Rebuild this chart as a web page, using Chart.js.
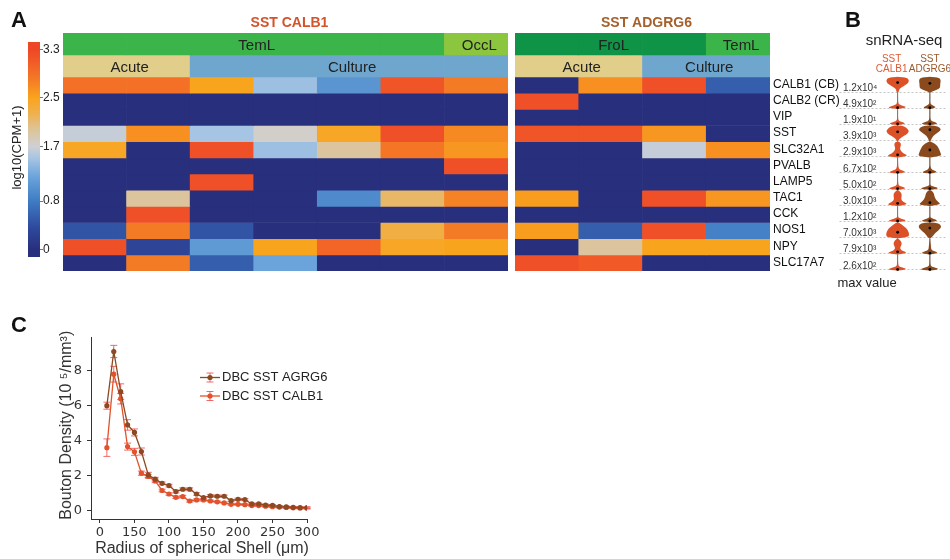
<!DOCTYPE html>
<html>
<head>
<meta charset="utf-8">
<script src="https://cdn.jsdelivr.net/npm/chart.js@4.4.1/dist/chart.umd.min.js"></script>
<style>
  html, body { margin: 0; padding: 0; background: #fff; overflow: hidden; width: 950px; height: 559px; }
  .box { position: absolute; }
</style>
</head>
<body>
<div class="box" style="left:0;top:0;width:63px;height:280px"><canvas id="cbar"></canvas></div>
<div class="box" style="left:63px;top:0;width:445px;height:280px"><canvas id="hmCalb1"></canvas></div>
<div class="box" style="left:515px;top:0;width:255px;height:280px"><canvas id="hmAdgrg6"></canvas></div>
<div class="box" style="left:770px;top:0;width:180px;height:300px"><canvas id="violin"></canvas></div>
<div class="box" style="left:0;top:310px;width:340px;height:249px"><canvas id="bouton"></canvas></div>
<script>
// ---------- data ----------
const genes = ['CALB1 (CB)', 'CALB2 (CR)', 'VIP', 'SST', 'SLC32A1', 'PVALB', 'LAMP5', 'TAC1', 'CCK', 'NOS1', 'NPY', 'SLC17A7'];
const maxValues = ['1.2x10⁴', '4.9x10²', '1.9x10¹', '3.9x10³', '2.9x10³', '6.7x10²', '5.0x10²', '3.0x10³', '1.2x10²', '7.0x10³', '7.9x10³', '2.6x10²'];

// log10(CPM+1), one row per gene
const calb1Region = ['TemL', 'TemL', 'TemL', 'TemL', 'TemL', 'TemL', 'OccL'];
const calb1Prep = ['Acute', 'Acute', 'Culture', 'Culture', 'Culture', 'Culture', 'Culture'];
const calb1Expr = [
  [2.9, 2.9, 2.5, 1.45, 1.05, 3.15, 2.8],
  [0, 0, 0, 0, 0, 0, 0],
  [0, 0, 0, 0, 0, 0, 0],
  [1.65, 2.65, 1.5, 1.75, 2.45, 3.2, 2.7],
  [2.45, 0, 3.2, 1.45, 1.95, 2.85, 2.6],
  [0, 0, 0, 0, 0, 0, 3.2],
  [0, 0, 3.2, 0, 0, 0, 0],
  [0, 1.95, 0, 0, 0.95, 2.15, 2.75],
  [0, 3.2, 0, 0, 0, 0, 0],
  [0.45, 2.8, 0.45, 0, 0, 2.3, 2.8],
  [3.2, 0.3, 1.1, 2.5, 3.0, 2.45, 2.5],
  [0, 2.8, 0.55, 1.2, 0, 0, 0]
];

const adgrg6Region = ['FroL', 'FroL', 'FroL', 'TemL'];
const adgrg6Prep = ['Acute', 'Acute', 'Culture', 'Culture'];
const adgrg6Expr = [
  [0, 2.65, 3.2, 0.55],
  [3.2, 0, 0, 0],
  [0, 0, 0, 0],
  [3.15, 3.15, 2.6, 0],
  [0, 0, 1.65, 2.65],
  [0, 0, 0, 0],
  [0, 0, 0, 0],
  [2.55, 0, 3.2, 2.6],
  [0, 0, 0, 0],
  [2.55, 0.55, 3.2, 0.85],
  [0, 1.95, 2.5, 2.5],
  [3.2, 3.1, 0, 0]
];

const colorbarTicks = [0, 0.8, 1.7, 2.5, 3.3];
const colorbarTickLabels = ['0', '0.8', '1.7', '2.5', '3.3'];

// snRNA-seq violin densities, sampled from zero (bottom) to max (top), normalised to 1
const violinCalb1 = [
  [0.10, 0.15, 0.50, 0.90, 1.00, 0.85],
  [1.00, 0.12, 0.05, 0.03, 0.02, 0.00],
  [0.90, 0.10, 0.04, 0.03, 0.02, 0.00],
  [0.10, 0.30, 0.75, 1.00, 0.90, 0.60],
  [1.00, 0.50, 0.25, 0.20, 0.30, 0.25],
  [0.90, 0.15, 0.06, 0.05, 0.03, 0.00],
  [0.95, 0.10, 0.05, 0.03, 0.02, 0.00],
  [1.00, 0.45, 0.30, 0.35, 0.35, 0.15],
  [1.00, 0.06, 0.03, 0.02, 0.00, 0.00],
  [0.95, 1.00, 0.95, 0.80, 0.55, 0.20],
  [1.00, 0.30, 0.20, 0.35, 0.35, 0.15],
  [1.00, 0.10, 0.05, 0.03, 0.02, 0.00]
];
const violinAdgrg6 = [
  [0.15, 0.85, 0.90, 0.90, 0.95, 0.85],
  [0.70, 0.08, 0.03, 0.02, 0.00, 0.00],
  [0.90, 0.12, 0.04, 0.02, 0.00, 0.00],
  [0.10, 0.20, 0.40, 0.80, 1.00, 0.70],
  [1.00, 0.95, 0.85, 0.75, 0.60, 0.25],
  [0.80, 0.15, 0.05, 0.03, 0.02, 0.00],
  [1.00, 0.05, 0.03, 0.02, 0.00, 0.00],
  [1.00, 0.70, 0.50, 0.40, 0.35, 0.20],
  [0.90, 0.05, 0.03, 0.02, 0.00, 0.00],
  [0.20, 0.35, 0.60, 0.90, 1.00, 0.80],
  [0.90, 0.15, 0.10, 0.08, 0.05, 0.02],
  [1.00, 0.10, 0.05, 0.03, 0.00, 0.00]
];
const medianCalb1 = [0.65, 0, 0, 0.6, 0.1, 0, 0, 0.1, 0, 0.35, 0.1, 0];
const medianAdgrg6 = [0.6, 0, 0, 0.75, 0.45, 0, 0, 0.15, 0, 0.65, 0, 0];

// bouton density vs shell radius
const radius = [10, 20, 30, 40, 50, 60, 70, 80, 90, 100, 110, 120, 130, 140, 150, 160, 170, 180, 190, 200, 210, 220, 230, 240, 250, 260, 270, 280, 290, 300];
const agrg6Density = [6.0, 9.1, 6.8, 4.9, 4.47, 3.38, 2.04, 1.8, 1.56, 1.43, 1.09, 1.22, 1.22, 0.95, 0.74, 0.84, 0.82, 0.82, 0.57, 0.65, 0.63, 0.38, 0.38, 0.32, 0.3, 0.23, 0.21, 0.19, 0.17, 0.17];
const agrg6Err = [0.2, 0.35, 0.45, 0.3, 0.2, 0.2, 0.15, 0.1, 0.08, 0.08, 0.08, 0.08, 0.08, 0.07, 0.07, 0.07, 0.07, 0.07, 0.06, 0.06, 0.06, 0.05, 0.05, 0.05, 0.05, 0.05, 0.05, 0.05, 0.05, 0.05];
const calb1Density = [3.6, 7.8, 6.4, 3.66, 3.36, 2.14, 1.95, 1.7, 1.15, 0.95, 0.76, 0.8, 0.55, 0.61, 0.61, 0.55, 0.5, 0.44, 0.36, 0.36, 0.34, 0.29, 0.29, 0.25, 0.22, 0.2, 0.18, 0.16, 0.15, 0.14];
const calb1Err = [0.5, 0.45, 0.3, 0.2, 0.2, 0.12, 0.1, 0.1, 0.08, 0.07, 0.07, 0.07, 0.06, 0.06, 0.06, 0.05, 0.05, 0.05, 0.05, 0.05, 0.05, 0.05, 0.05, 0.05, 0.05, 0.05, 0.05, 0.05, 0.05, 0.05];
const radiusTicks = [0, 50, 100, 150, 200, 250, 300];
const radiusTickLabels = ['0', '150', '100', '150', '200', '250', '300'];
const densityTicks = [0, 2, 4, 6, 8];

// ---------- styling ----------
const FONT = '"Liberation Sans", "DejaVu Sans", Arial, sans-serif';
const WIDE_FONT = '"DejaVu Sans", "Liberation Sans", sans-serif';
Chart.defaults.font.family = FONT;
Chart.defaults.animation = false;
Chart.defaults.responsive = true;
Chart.defaults.maintainAspectRatio = false;
Chart.defaults.events = [];
Chart.defaults.plugins.legend.display = false;
Chart.defaults.plugins.tooltip.enabled = false;

const regionColors = { TemL: '#3bb54a', OccL: '#8cc63f', FroL: '#0f9346' };
const prepColors = { Acute: '#e0ce8a', Culture: '#6ea6ce' };
const colorStops = [
  [0, '#282f7d'], [0.35, '#2e489b'], [0.8, '#3e7cc3'], [1.2, '#6ba4db'], [1.5, '#a6c4e3'],
  [1.7, '#cfd0d4'], [2.0, '#dec393'], [2.25, '#efb04c'], [2.5, '#f9a41d'], [2.8, '#f47b25'],
  [3.1, '#f15a27'], [3.3, '#ee4726']
];
const hexRgb = h => [1, 3, 5].map(k => parseInt(h.slice(k, k + 2), 16));
function heatColor(v) {
  if (v <= colorStops[0][0]) return colorStops[0][1];
  for (let k = 1; k < colorStops.length; k++) {
    const [v1, c1] = colorStops[k];
    if (v <= v1) {
      const [v0, c0] = colorStops[k - 1];
      const t = (v - v0) / (v1 - v0);
      const a = hexRgb(c0), b = hexRgb(c1);
      return 'rgb(' + a.map((x, i) => Math.round(x + (b[i] - x) * t)).join(',') + ')';
    }
  }
  return colorStops[colorStops.length - 1][1];
}

// row layout on the shared vertical scale: two annotation bands, then one unit per gene
const ANN_H = 1.36;
const Y_TOTAL = 2 * ANN_H + genes.length;
const geneTop = i => 2 * ANN_H + i;

function groupSpans(labels) {
  const spans = [];
  labels.forEach((l, j) => {
    const last = spans[spans.length - 1];
    if (last && last.label === l) last.end = j; else spans.push({ label: l, start: j, end: j });
  });
  return spans;
}

// ---------- colour bar ----------
const CB_MIN = -0.12, CB_MAX = 3.42;
const cbarText = {
  id: 'cbarText',
  afterDraw(chart) {
    const { ctx, chartArea } = chart;
    ctx.save();
    ctx.fillStyle = '#111';
    ctx.font = 'bold 22px ' + FONT;
    ctx.textAlign = 'left';
    ctx.textBaseline = 'alphabetic';
    ctx.fillText('A', 11, 27);
    ctx.translate(17, (chartArea.top + chartArea.bottom) / 2 - 2);
    ctx.rotate(-Math.PI / 2);
    ctx.font = '13px ' + FONT;
    ctx.fillStyle = '#222';
    ctx.textAlign = 'center';
    ctx.textBaseline = 'middle';
    ctx.fillText('log10(CPM+1)', 0, 0);
    ctx.restore();
  }
};
new Chart(document.getElementById('cbar'), {
  type: 'bar',
  data: {
    labels: ['log10(CPM+1)'],
    datasets: [{
      data: [[CB_MIN, CB_MAX]],
      barPercentage: 1, categoryPercentage: 1,
      borderWidth: 0,
      backgroundColor(ctx) {
        const chart = ctx.chart;
        if (!chart.chartArea) return colorStops[0][1];
        const y = chart.scales.y;
        const g = chart.ctx.createLinearGradient(0, y.getPixelForValue(CB_MIN), 0, y.getPixelForValue(CB_MAX));
        colorStops.forEach(([v, c]) => g.addColorStop((v - CB_MIN) / (CB_MAX - CB_MIN), c));
        return g;
      }
    }]
  },
  options: {
    layout: { padding: { left: 28, top: 42, bottom: 23, right: 0 } },
    scales: {
      x: { display: false },
      y: {
        position: 'right', min: CB_MIN, max: CB_MAX,
        afterBuildTicks(s) { s.ticks = colorbarTicks.map(v => ({ value: v })); },
        afterFit(s) { s.width = 23; },
        ticks: { font: { size: 12 }, color: '#222', padding: 0, callback: (v, i) => colorbarTickLabels[i] },
        grid: { drawOnChartArea: false, tickLength: 3, color: '#777' },
        border: { display: false }
      }
    }
  },
  plugins: [cbarText]
});

// ---------- heatmaps ----------
const heatLabels = {
  id: 'heatLabels',
  afterDatasetsDraw(chart, args, opts) {
    const { ctx, chartArea, scales: { x, y } } = chart;
    ctx.save();
    ctx.textAlign = 'center';
    ctx.fillStyle = opts.titleColor;
    ctx.font = 'bold 14px ' + FONT;
    ctx.textBaseline = 'alphabetic';
    ctx.fillText(opts.title, (chartArea.left + chartArea.right) / 2 + 4, 27);
    ctx.fillStyle = '#222';
    ctx.font = '15px ' + FONT;
    ctx.textBaseline = 'middle';
    [opts.region, opts.prep].forEach((labels, k) => {
      groupSpans(labels).forEach(s => {
        const cx = (x.getPixelForValue(s.start) + x.getPixelForValue(s.end)) / 2;
        const cy = y.getPixelForValue((k + 0.5) * ANN_H);
        ctx.fillText(s.label, cx + 3, cy + 1.5);
      });
    });
    ctx.restore();
  }
};

function heatmap(id, title, titleColor, expr, region, prep) {
  const cols = region.map((_, j) => String(j + 1));
  const cell = { grouped: false, barPercentage: 1, categoryPercentage: 1, borderWidth: 0 };
  const datasets = [
    Object.assign({}, cell, { data: cols.map(() => [0, ANN_H]), backgroundColor: region.map(r => regionColors[r]) }),
    Object.assign({}, cell, { data: cols.map(() => [ANN_H, 2 * ANN_H]), backgroundColor: prep.map(p => prepColors[p]) })
  ];
  expr.forEach((row, i) => {
    datasets.push(Object.assign({}, cell, {
      data: row.map(() => [geneTop(i), geneTop(i) + 1]),
      backgroundColor: row.map(heatColor)
    }));
  });
  return new Chart(document.getElementById(id), {
    type: 'bar',
    data: { labels: cols, datasets },
    options: {
      layout: { padding: { top: 33, bottom: 9, left: 0, right: 0 } },
      scales: {
        x: { type: 'category', display: false },
        y: { type: 'linear', min: 0, max: Y_TOTAL, reverse: true, display: false }
      },
      plugins: { heatLabels: { title, titleColor, region, prep } }
    },
    plugins: [heatLabels]
  });
}
heatmap('hmCalb1', 'SST CALB1', '#d4532b', calb1Expr, calb1Region, calb1Prep);
heatmap('hmAdgrg6', 'SST ADGRG6', '#a5602c', adgrg6Expr, adgrg6Region, adgrg6Prep);

// ---------- snRNA-seq violins ----------
const VIOLIN_H = 0.85;     // violin height in row units
const VIOLIN_W = 11.5;     // max half-width in px
const BASE_OFF = 0.1;      // baseline sits just above the row bottom
const baseOf = i => geneTop(i) + 1 - BASE_OFF;
const violinColors = ['#dc5128', '#8a4a1e'];
const violinSets = [violinCalb1, violinAdgrg6];

const violinPlugin = {
  id: 'violinPlugin',
  beforeDatasetsDraw(chart) {
    const { ctx, chartArea, scales: { x, y } } = chart;
    ctx.save();
    // dashed row guides
    ctx.strokeStyle = '#b5b5b5';
    ctx.lineWidth = 0.8;
    ctx.setLineDash([2, 2]);
    genes.forEach((g, i) => {
      const py = Math.round(y.getPixelForValue(baseOf(i))) + 0.5;
      ctx.beginPath();
      ctx.moveTo(chartArea.left - 42, py);
      ctx.lineTo(chartArea.right, py);
      ctx.stroke();
    });
    ctx.setLineDash([]);
    // continuous spine through each column
    violinSets.forEach((set, c) => {
      const cx = x.getPixelForValue(c + 0.5);
      ctx.strokeStyle = '#444';
      ctx.lineWidth = 0.6;
      ctx.beginPath();
      ctx.moveTo(cx, y.getPixelForValue(geneTop(0) + 0.05));
      ctx.lineTo(cx, y.getPixelForValue(Y_TOTAL));
      ctx.stroke();
    });
    // violin bodies
    violinSets.forEach((set, c) => {
      const cx = x.getPixelForValue(c + 0.5);
      ctx.fillStyle = violinColors[c];
      set.forEach((prof, i) => {
        const n = prof.length - 1;
        const pts = prof.map((d, k) => [d * VIOLIN_W, y.getPixelForValue(baseOf(i) - VIOLIN_H * k / n)]);
        const bottom = y.getPixelForValue(baseOf(i)) + 1.2;
        const top = pts[n][1] - 1;
        const right = [[0, bottom]].concat(pts).concat([[0, top]]);
        const side = right.map(([w, py]) => [cx + Math.max(w, 0.4), py]);
        const other = right.slice().reverse().map(([w, py]) => [cx - Math.max(w, 0.4), py]);
        const poly = side.concat(other);
        ctx.beginPath();
        ctx.moveTo(poly[0][0], poly[0][1]);
        for (let k = 1; k < poly.length - 1; k++) {
          const mx = (poly[k][0] + poly[k + 1][0]) / 2, my = (poly[k][1] + poly[k + 1][1]) / 2;
          ctx.quadraticCurveTo(poly[k][0], poly[k][1], mx, my);
        }
        ctx.lineTo(poly[poly.length - 1][0], poly[poly.length - 1][1]);
        ctx.closePath();
        ctx.fill();
      });
    });
    ctx.restore();
  },
  afterDraw(chart) {
    const { ctx, scales: { x, y } } = chart;
    ctx.save();
    ctx.fillStyle = '#111';
    ctx.textAlign = 'left';
    ctx.textBaseline = 'alphabetic';
    ctx.font = 'bold 22px ' + FONT;
    ctx.fillText('B', 75, 27);
    ctx.textAlign = 'center';
    ctx.font = '15px ' + FONT;
    ctx.fillStyle = '#222';
    ctx.fillText('snRNA-seq', 134, 45);
    ctx.font = '10px ' + FONT;
    ctx.fillStyle = '#dc5a34';
    ctx.fillText('SST', x.getPixelForValue(0.5) - 6, 62);
    ctx.fillText('CALB1', x.getPixelForValue(0.5) - 6, 72);
    ctx.fillStyle = '#9a5a2c';
    ctx.fillText('SST', x.getPixelForValue(1.5), 62);
    ctx.fillText('ADGRG6', x.getPixelForValue(1.5), 72);
    // gene names and max values
    genes.forEach((g, i) => {
      const cy = y.getPixelForValue(geneTop(i) + 0.5);
      ctx.textAlign = 'left';
      ctx.textBaseline = 'middle';
      ctx.fillStyle = '#111';
      ctx.font = '12px ' + FONT;
      ctx.fillText(g, 3, cy - 0.5);
      ctx.fillStyle = '#333';
      ctx.font = '10px ' + FONT;
      ctx.fillText(maxValues[i], 73, cy + 3);
    });
    ctx.textAlign = 'center';
    ctx.textBaseline = 'alphabetic';
    ctx.fillStyle = '#222';
    ctx.font = '13px ' + FONT;
    ctx.fillText('max value', 97, 287);
    ctx.restore();
  }
};
const medianPoints = (meds, c) => meds.map((m, i) => ({ x: c + 0.5, y: baseOf(i) - m * VIOLIN_H }));
new Chart(document.getElementById('violin'), {
  type: 'scatter',
  data: {
    datasets: [
      { data: medianPoints(medianCalb1, 0), pointRadius: 1.4, backgroundColor: '#000', borderWidth: 0 },
      { data: medianPoints(medianAdgrg6, 1), pointRadius: 1.4, backgroundColor: '#000', borderWidth: 0 }
    ]
  },
  options: {
    layout: { padding: { left: 111.5, right: 2.5, top: 33, bottom: 29 } },
    scales: {
      x: { type: 'linear', min: 0, max: 2, display: false },
      y: { type: 'linear', min: 0, max: Y_TOTAL, reverse: true, display: false }
    }
  },
  plugins: [violinPlugin]
});

// ---------- bouton density ----------
const errorBars = {
  id: 'errorBars',
  beforeDatasetsDraw(chart) {
    const { ctx, scales: { x, y } } = chart;
    ctx.save();
    ctx.strokeStyle = 'rgba(236,58,58,0.75)';
    ctx.lineWidth = 1;
    chart.data.datasets.forEach(ds => {
      ds.data.forEach((p, i) => {
        const e = ds.errors[i];
        const px = x.getPixelForValue(p.x);
        const y0 = y.getPixelForValue(p.y - e), y1 = y.getPixelForValue(p.y + e);
        ctx.beginPath();
        ctx.moveTo(px, y0); ctx.lineTo(px, y1);
        ctx.moveTo(px - 3.5, y0); ctx.lineTo(px + 3.5, y0);
        ctx.moveTo(px - 3.5, y1); ctx.lineTo(px + 3.5, y1);
        ctx.stroke();
      });
    });
    ctx.restore();
  },
  afterDraw(chart) {
    const { ctx, chartArea } = chart;
    ctx.save();
    ctx.fillStyle = '#111';
    ctx.font = 'bold 22px ' + FONT;
    ctx.textAlign = 'left';
    ctx.textBaseline = 'alphabetic';
    ctx.fillText('C', 11, 22);
    // axis titles
    ctx.fillStyle = '#333';
    ctx.font = '16px ' + FONT;
    ctx.textAlign = 'center';
    ctx.fillText('Radius of spherical Shell (μm)', 202, 243);
    ctx.save();
    ctx.translate(71, (chartArea.top + chartArea.bottom) / 2 - 3);
    ctx.rotate(-Math.PI / 2);
    ctx.fillText('Bouton Density (10 ⁵/mm³)', 0, 0);
    ctx.restore();
    // legend
    chart.data.datasets.forEach((ds, k) => {
      const cy = 67.5 + k * 18.5;
      ctx.strokeStyle = ds.borderColor;
      ctx.lineWidth = 1.3;
      ctx.beginPath(); ctx.moveTo(200, cy); ctx.lineTo(220, cy); ctx.stroke();
      ctx.strokeStyle = 'rgba(236,58,58,0.75)';
      ctx.lineWidth = 1;
      ctx.beginPath();
      ctx.moveTo(210, cy - 4.5); ctx.lineTo(210, cy + 4.5);
      ctx.moveTo(206.5, cy - 4.5); ctx.lineTo(213.5, cy - 4.5);
      ctx.moveTo(206.5, cy + 4.5); ctx.lineTo(213.5, cy + 4.5);
      ctx.stroke();
      ctx.fillStyle = ds.borderColor;
      ctx.beginPath(); ctx.arc(210, cy, 2.6, 0, Math.PI * 2); ctx.fill();
      ctx.fillStyle = '#222';
      ctx.font = '13px ' + FONT;
      ctx.textAlign = 'left';
      ctx.textBaseline = 'middle';
      ctx.fillText(ds.label, 222, cy);
    });
    ctx.restore();
  }
};
const series = (vals) => radius.map((r, i) => ({ x: r, y: vals[i] }));
new Chart(document.getElementById('bouton'), {
  type: 'line',
  data: {
    datasets: [
      { label: 'DBC SST AGRG6', data: series(agrg6Density), errors: agrg6Err, borderColor: '#8b4a22', backgroundColor: '#8b4a22', borderWidth: 1.3, pointRadius: 2.6, pointBorderWidth: 0, tension: 0 },
      { label: 'DBC SST CALB1', data: series(calb1Density), errors: calb1Err, borderColor: '#e2522b', backgroundColor: '#e2522b', borderWidth: 1.3, pointRadius: 2.6, pointBorderWidth: 0, tension: 0 }
    ]
  },
  options: {
    layout: { padding: { top: 27.5, right: 33, left: 0, bottom: 0 } },
    scales: {
      x: {
        type: 'linear', min: -13, max: 300,
        afterBuildTicks(s) { s.ticks = radiusTicks.map(v => ({ value: v })); },
        afterFit(s) { s.height = 40; },
        ticks: { font: { size: 13, family: WIDE_FONT }, color: '#333', padding: 2, maxRotation: 0, callback: (v, i) => radiusTickLabels[i] },
        grid: { drawOnChartArea: false, tickLength: 4, color: '#333' },
        border: { display: true, color: '#333', width: 1 }
      },
      y: {
        type: 'linear', min: -0.48, max: 9.9,
        afterBuildTicks(s) { s.ticks = densityTicks.map(v => ({ value: v })); },
        afterFit(s) { s.width = 91; },
        ticks: { font: { size: 13, family: WIDE_FONT }, color: '#333', padding: 5 },
        grid: { drawOnChartArea: false, tickLength: 4, color: '#333' },
        border: { display: true, color: '#333', width: 1 }
      }
    }
  },
  plugins: [errorBars]
});
</script>
</body>
</html>
